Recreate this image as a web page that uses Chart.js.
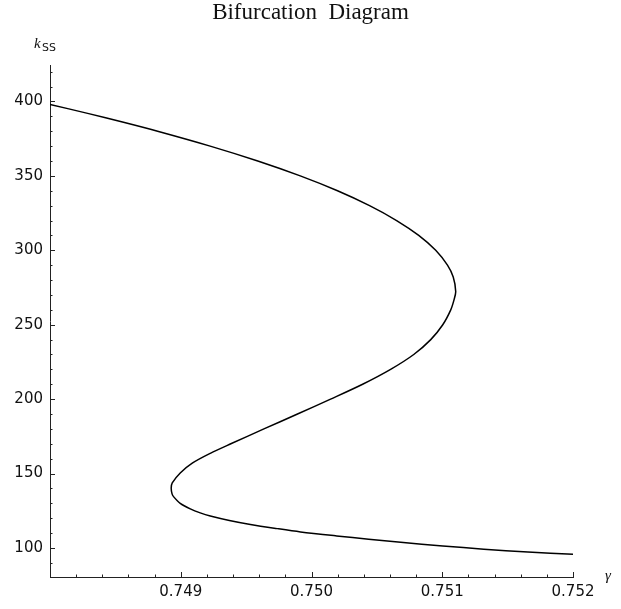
<!DOCTYPE html>
<html>
<head>
<meta charset="utf-8">
<script src="https://cdn.jsdelivr.net/npm/chart.js@4"></script>
<style>
  html, body { margin: 0; padding: 0; background: #fff; }
</style>
</head>
<body>
<canvas id="canvas" width="621" height="609"></canvas>
<script>
'use strict';

// curve, in drawing order (top-left -> bottom-right)
const gammaValues = [
  0.748000, 0.748288, 0.748562, 0.748823, 0.749225, 0.749589, 0.749914, 0.750199,
  0.750444, 0.750651, 0.750820, 0.750950, 0.751040, 0.751084, 0.751103, 0.751090,
  0.751065, 0.751004, 0.750912, 0.750782, 0.750605, 0.750391, 0.750146, 0.749893,
  0.749636, 0.749383, 0.749226, 0.749088, 0.748996, 0.748935, 0.748927, 0.748933,
  0.748945, 0.748996, 0.749073, 0.749149, 0.749226, 0.749372, 0.749533, 0.749739,
  0.749916, 0.750192, 0.750437, 0.750682, 0.751004, 0.751318, 0.751655, 0.752000
];
const kssValues = [
  398.0, 392.0, 386.0, 380.0, 370.0, 360.0, 350.0, 340.0,
  330.0, 320.0, 310.0, 300.0, 290.0, 282.0, 272.3, 266.7,
  260.0, 250.0, 240.0, 230.0, 220.0, 210.0, 200.0, 190.0,
  180.0, 170.0, 163.6, 157.0, 150.4, 143.7, 140.3, 136.5,
  134.5, 130.0, 126.3, 123.6, 121.5, 118.5, 115.8, 113.0,
  110.8, 108.1, 105.9, 103.8, 101.4, 99.2, 97.3, 95.8
];

const xTickValues = [0.749, 0.750, 0.751, 0.752];
const yTickValues = [100, 150, 200, 250, 300, 350, 400];
const xMinorStep = 0.0002;
const yMinorStep = 10;

let points = gammaValues.map((g, i) => ({x: g, y: kssValues[i]}));

// Mathematica style tick marks pointing into the plot, plus the axis symbols
const axisMarks = {
  id: 'axisMarks',
  afterDraw(chart) {
    let {ctx, chartArea, scales} = chart;
    let xs = scales.x;
    let ys = scales.y;
    ctx.save();
    ctx.strokeStyle = '#222';
    ctx.lineWidth = 1;
    ctx.beginPath();
    for (let i = 1; ; i++) {
      let v = xs.min + i * xMinorStep;
      if (v > xs.max + 1e-9) break;
      let px = Math.round(xs.getPixelForValue(v)) + 0.5;
      let major = xTickValues.some(t => Math.abs(t - v) < 1e-9);
      ctx.moveTo(px, chartArea.bottom);
      ctx.lineTo(px, chartArea.bottom - (major ? 5 : 2.5));
    }
    for (let v = Math.ceil(ys.min / yMinorStep) * yMinorStep; v <= ys.max; v += yMinorStep) {
      let py = Math.round(ys.getPixelForValue(v)) + 0.5;
      let major = yTickValues.includes(v);
      ctx.moveTo(chartArea.left, py);
      ctx.lineTo(chartArea.left + (major ? 5 : 2.5), py);
    }
    ctx.stroke();

    ctx.fillStyle = '#111';
    ctx.textBaseline = 'alphabetic';
    ctx.font = 'italic 15px "Liberation Serif"';
    ctx.fillText('k', 34, 48);
    ctx.font = '11px "DejaVu Sans"';
    ctx.fillText('SS', 42, 51);
    ctx.font = 'italic 15px "Liberation Serif"';
    ctx.fillText('γ', 605, 580);
    ctx.restore();
  }
};

let ctx = document.querySelector('#canvas').getContext('2d');
let chart = new Chart(ctx, {
  type: 'scatter',
  data: {
    datasets: [{
      data: points,
      showLine: true,
      borderColor: '#000',
      borderWidth: 1.5,
      pointRadius: 0,
      tension: 0.3
    }]
  },
  options: {
    responsive: false,
    animation: false,
    layout: {padding: 0},
    plugins: {
      legend: {display: false},
      tooltip: {enabled: false},
      title: {
        display: true,
        text: 'Bifurcation  Diagram',
        color: '#111',
        font: {family: '"Liberation Serif"', size: 23, weight: 'normal', lineHeight: 1},
        padding: {top: 1, bottom: 41}
      }
    },
    scales: {
      x: {
        type: 'linear',
        min: 0.748,
        max: 0.752,
        grid: {display: false, drawTicks: false},
        border: {display: true, color: '#222', width: 1},
        afterBuildTicks(scale) {
          scale.ticks = xTickValues.map(v => ({value: v}));
        },
        afterFit(scale) {
          scale.height = 32;
        },
        ticks: {
          padding: 6,
          color: '#111',
          maxRotation: 0,
          font: {family: '"DejaVu Sans"', size: 15},
          callback: v => v.toFixed(3)
        }
      },
      y: {
        type: 'linear',
        min: 80.5,
        max: 424.5,
        grid: {display: false, drawTicks: false},
        border: {display: true, color: '#222', width: 1},
        afterBuildTicks(scale) {
          scale.ticks = yTickValues.map(v => ({value: v}));
        },
        afterFit(scale) {
          scale.width = 50;
        },
        ticks: {
          padding: 7,
          color: '#111',
          font: {family: '"DejaVu Sans"', size: 15},
          callback: v => String(v)
        }
      },
      gap: {
        type: 'linear',
        position: 'right',
        grid: {display: false, drawTicks: false},
        border: {display: false},
        ticks: {display: false},
        afterFit(scale) {
          scale.width = 48;
        }
      }
    }
  },
  plugins: [axisMarks]
});
</script>
</body>
</html>
